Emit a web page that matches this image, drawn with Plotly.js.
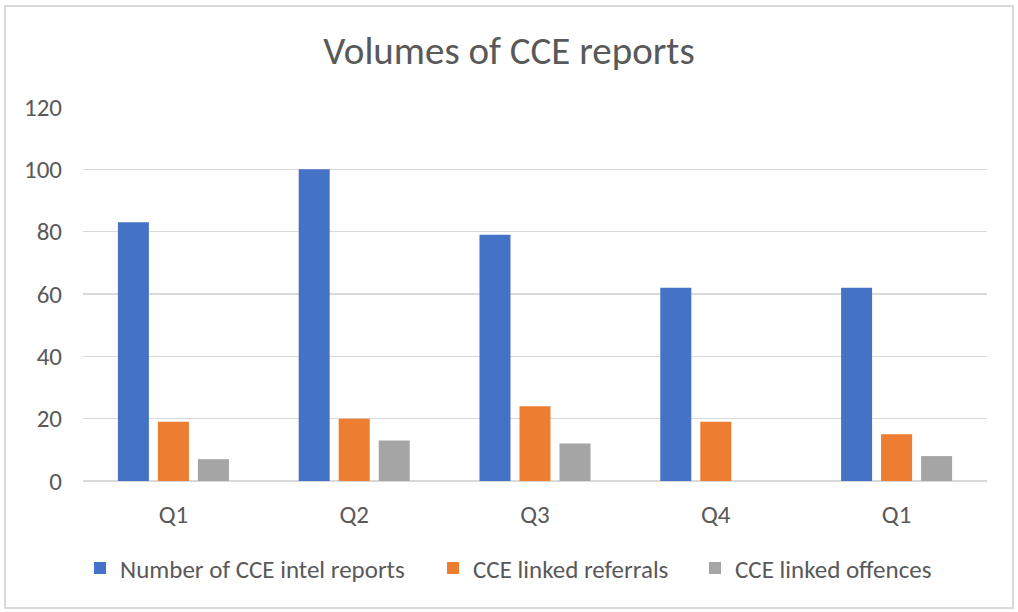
<!DOCTYPE html>
<html>
<head>
<meta charset="utf-8">
<script src="https://cdn.plot.ly/plotly-3.0.1.min.js"></script>
<style>
  html, body { margin: 0; padding: 0; background: #ffffff; }
  #frame { position: absolute; left: 4px; top: 5px; width: 1006px; height: 600px; border: 2px solid #d9d9d9; }
  #chart { position: absolute; left: 0; top: 0; width: 1018px; height: 612px; }
</style>
</head>
<body>
<div id="frame"></div>
<div id="chart"></div>
<script>
const quarters = ['Q1', 'Q2', 'Q3', 'Q4', 'Q1'];
const intelReports = [83, 100, 79, 62, 62];
const linkedReferrals = [19, 20, 24, 19, 15];
const linkedOffences = [7, 13, 12, null, 8];
const seriesNames = ['Number of CCE intel reports', 'CCE linked referrals', 'CCE linked offences'];
const yTicks = [0, 20, 40, 60, 80, 100, 120];

const positions = quarters.map((_, i) => i);
const colors = ['#4472C4', '#ED7D31', '#A5A5A5'];
const values = [intelReports, linkedReferrals, linkedOffences];
const legendIds = ['legend', 'legend2', 'legend3'];
const legendX = [-0.0033, 0.3872, 0.6770];

const traces = values.map((v, k) => ({
  type: 'bar',
  name: seriesNames[k],
  x: positions,
  y: v,
  legend: legendIds[k],
  marker: { color: colors[k] },
  hoverinfo: 'y+name'
}));

const font = "Calibri, Carlito, 'Open Sans', sans-serif";
const layout = {
  width: 1018,
  height: 612,
  paper_bgcolor: 'rgba(0,0,0,0)',
  plot_bgcolor: 'rgba(0,0,0,0)',
  margin: { l: 83, r: 31, t: 107, b: 131 },
  barmode: 'group',
  bargap: 0.336,
  bargroupgap: 0.225,
  title: {
    text: 'Volumes of CCE reports',
    font: { family: font, size: 39, color: '#595959' },
    x: 0.5, xanchor: 'center',
    y: 0.918, yanchor: 'middle'
  },
  font: { family: font, color: '#595959', size: 25 },
  xaxis: {
    tickvals: positions,
    ticktext: quarters,
    range: [-0.5, quarters.length - 0.5],
    showgrid: false,
    zeroline: false,
    showline: false,
    ticks: 'outside',
    ticklen: 11,
    tickcolor: 'rgba(0,0,0,0)',
    tickfont: { family: font, size: 25, color: '#595959' }
  },
  yaxis: {
    range: [0, 120],
    tickvals: yTicks,
    showgrid: true,
    gridcolor: '#d9d9d9',
    gridwidth: 1.5,
    zeroline: true,
    zerolinecolor: '#d9d9d9',
    zerolinewidth: 1.5,
    showline: false,
    ticks: 'outside',
    ticklen: 15,
    tickcolor: 'rgba(0,0,0,0)',
    tickfont: { family: font, size: 25, color: '#595959' }
  },
  showlegend: true
};

legendIds.forEach((id, k) => {
  layout[id] = {
    orientation: 'h',
    x: legendX[k], xanchor: 'left',
    y: -0.233, yanchor: 'middle',
    font: { family: font, size: 25, color: '#595959' },
    itemwidth: 30,
    bgcolor: 'rgba(0,0,0,0)'
  };
});

Plotly.newPlot('chart', traces, layout, { displayModeBar: false, staticPlot: true });
</script>
</body>
</html>
